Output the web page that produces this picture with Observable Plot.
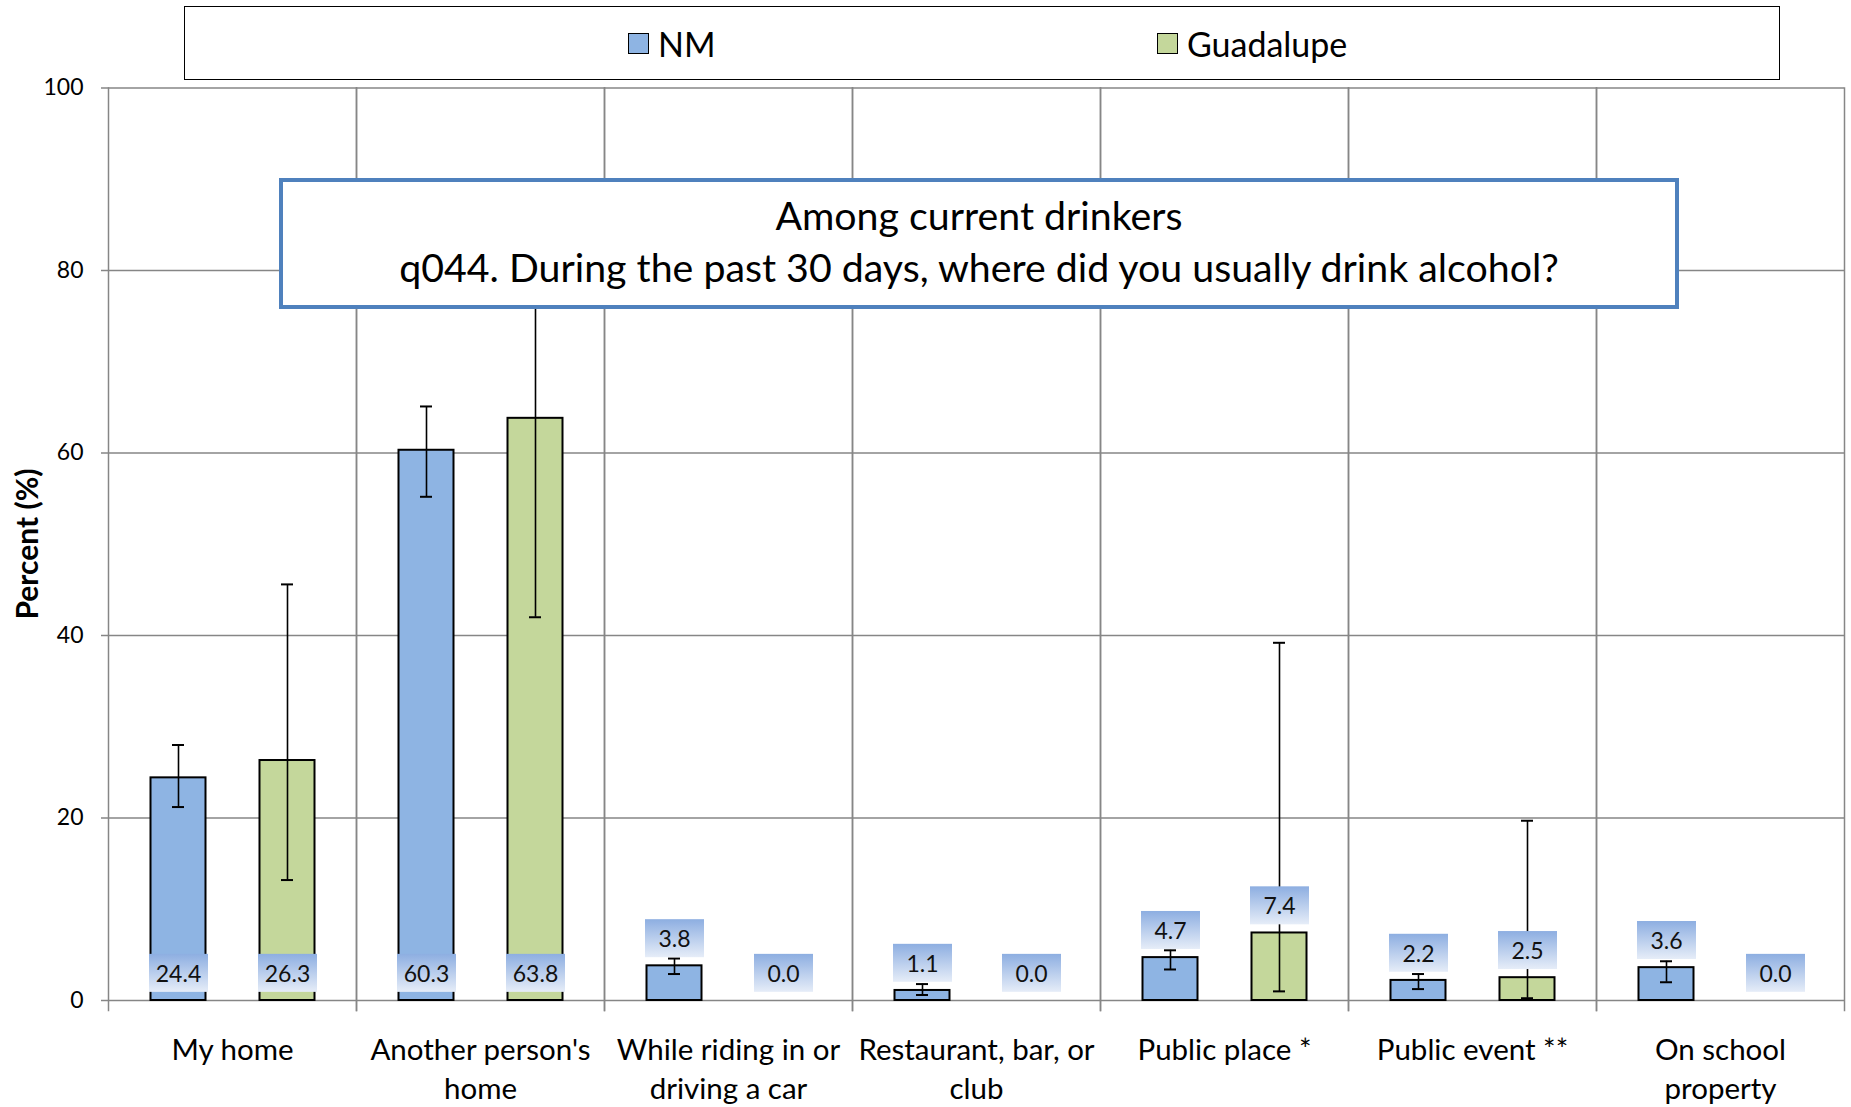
<!DOCTYPE html>
<html><head><meta charset="utf-8">
<script src="https://cdn.jsdelivr.net/npm/d3@7"></script>
<script src="https://cdn.jsdelivr.net/npm/@observablehq/plot@0.6"></script>
<style>
html,body{margin:0;padding:0;background:#fff;overflow:hidden;}
#wrap{position:relative;width:1851px;height:1107px;font-family:Lato,sans-serif;color:#000;}
#legend{position:absolute;left:184px;top:6px;width:1596px;height:74px;box-sizing:border-box;border:1.5px solid #000;background:#fff;font-size:34px;z-index:2;}
.item{position:absolute;top:0;height:100%;display:flex;align-items:center;}
.sw{width:19px;height:19px;border:1.5px solid #000;margin-right:9px;}
#title{position:absolute;left:279px;top:178px;width:1400px;height:131px;box-sizing:border-box;border:4px solid #4F81BD;background:#fff;display:flex;flex-direction:column;justify-content:center;align-items:center;font-size:39.3px;line-height:52px;padding-bottom:5px;z-index:2;}
#ytitle{position:absolute;left:26px;top:544px;transform:translate(-50%,-50%) rotate(-90deg);font-weight:bold;font-size:30px;white-space:nowrap;z-index:2;}
#chart{position:absolute;left:0;top:0;}
</style>
</head><body>
<div id="wrap">
  <div id="chart"></div>
  <div id="legend"></div>
  <div id="title"></div>
  <div id="ytitle"></div>
</div>
<script>
const categories = ["My home","Another person's home","While riding in or driving a car","Restaurant, bar, or club","Public place *","Public event **","On school property"];
const categoryLabels = ["My home","Another person's\nhome","While riding in or\ndriving a car","Restaurant, bar, or\nclub","Public place *","Public event **","On school\nproperty"];
const series = ["NM","Guadalupe"];
const seriesColors = ["#8EB4E3","#C4D79B"];
const nmValues = [24.4,60.3,3.8,1.1,4.7,2.2,3.6];
const nmLower  = [21.2,55.2,2.9,0.6,3.4,1.25,2.0];
const nmUpper  = [28.0,65.1,4.6,1.8,5.5,2.9,4.3];
const guValues = [26.3,63.8,0.0,0.0,7.4,2.5,0.0];
const guLower  = [13.2,42.0,null,null,1.0,0.25,null];
const guUpper  = [45.6,81.5,null,null,39.2,19.7,null];
const yTicks = [0,20,40,60,80,100];
const titleLines = ["Among current drinkers","q044. During the past 30 days, where did you usually drink alcohol?"];
const yTitle = "Percent (%)";

const gridColor = "#868686";

const rows = [];
categories.forEach((c,i) => {
  rows.push({category:c, series:"NM", value:nmValues[i], lo:nmLower[i], hi:nmUpper[i]});
  rows.push({category:c, series:"Guadalupe", value:guValues[i], lo:guLower[i], hi:guUpper[i]});
});
const withCI = rows.filter(d => d.lo != null);
const labelMap = new Map(categories.map((c,i)=>[c, categoryLabels[i]]));

const chart = Plot.plot({
  width:1851, height:1107,
  marginLeft:107.5, marginRight:6, marginTop:87.5, marginBottom:107,
  style:{fontFamily:"Lato, sans-serif", background:"transparent", overflow:"visible", color:"#000"},
  fx:{domain:categories, padding:0, label:null},
  x:{domain:series, paddingInner:0.4955, paddingOuter:0.376, axis:null},
  y:{domain:[0,100], label:null},
  color:{domain:series, range:seriesColors},
  marks:[
    Plot.ruleY(yTicks, {stroke:gridColor, strokeWidth:1.5}),
    Plot.frame({anchor:"left", stroke:gridColor, strokeWidth:1.5, insetBottom:-10}),
    Plot.frame({anchor:"right", stroke:gridColor, strokeWidth:1.5, insetBottom:-10}),
    Plot.axisY({ticks:yTicks, tickSize:7, tickPadding:18, fontSize:23, stroke:gridColor, strokeWidth:1.5, fill:"#000", label:null}),
    Plot.axisFx({anchor:"bottom", tickSize:0, tickPadding:32, fontSize:29.5, lineHeight:1.32, label:null, fill:"#000", tickFormat:d=>labelMap.get(d)}),
    Plot.barY(rows, {fx:"category", x:"series", y:"value", fill:"series", stroke:"#000", strokeWidth:2}),
    Plot.ruleX(withCI, {fx:"category", x:"series", y1:"lo", y2:"hi", stroke:"#000", strokeWidth:1.6}),
    Plot.tickY(withCI, {fx:"category", x:"series", y:"lo", insetLeft:21.5, insetRight:21.5, stroke:"#000", strokeWidth:2}),
    Plot.tickY(withCI, {fx:"category", x:"series", y:"hi", insetLeft:21.5, insetRight:21.5, stroke:"#000", strokeWidth:2}),
    Plot.text(rows, {fx:"category", x:"series", y:d => d.value > 10 ? 0 : d.value, dy:-26, text:d => d.value.toFixed(1), fontSize:23, fill:"#111"})
  ]
});
document.getElementById("chart").appendChild(chart);

// gradient label boxes behind data labels
const svgNS = "http://www.w3.org/2000/svg";
const svg = chart.tagName.toLowerCase() === "svg" ? chart : chart.querySelector("svg");
const defs = document.createElementNS(svgNS, "defs");
defs.innerHTML = '<linearGradient id="lblgrad" x1="0" y1="0" x2="0" y2="1"><stop offset="0" stop-color="#8DAEE1"/><stop offset="1" stop-color="#E6EDF8"/></linearGradient>';
svg.insertBefore(defs, svg.firstChild);
svg.querySelectorAll('g[aria-label="text"] text').forEach(t => {
  const bb = t.getBBox();
  const cx = bb.x + bb.width / 2, cy = bb.y + bb.height / 2;
  const r = document.createElementNS(svgNS, "rect");
  r.setAttribute("x", cx - 29.5); r.setAttribute("y", cy - 19);
  r.setAttribute("width", 59); r.setAttribute("height", 38);
  r.setAttribute("fill", "url(#lblgrad)"); r.setAttribute("stroke", "none");
  const tr = t.getAttribute("transform"); if (tr) r.setAttribute("transform", tr);
  t.parentNode.insertBefore(r, t);
});

// legend
const legend = document.getElementById("legend");
const legendLeft = [443, 972];
series.forEach((s,i) => {
  const it = document.createElement("div"); it.className = "item"; it.style.left = legendLeft[i] + "px";
  const sw = document.createElement("div"); sw.className = "sw"; sw.style.background = seriesColors[i];
  const lb = document.createElement("span"); lb.textContent = s;
  it.appendChild(sw); it.appendChild(lb); legend.appendChild(it);
});
const title = document.getElementById("title");
titleLines.forEach(l => { const d = document.createElement("div"); d.textContent = l; title.appendChild(d); });
document.getElementById("ytitle").textContent = yTitle;
</script>
</body></html>
